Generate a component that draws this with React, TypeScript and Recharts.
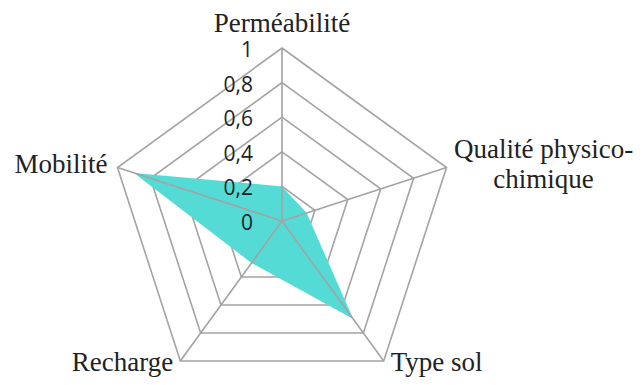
import { RadarChart, Radar, PolarGrid, PolarAngleAxis, PolarRadiusAxis } from 'recharts';

const criteria = ['Perméabilité', 'Qualité physico-chimique', 'Type sol', 'Recharge', 'Mobilité'];
const scores = [0.2, 0.15, 0.7, 0.3, 0.9];
const radiusTicks = [0, 0.2, 0.4, 0.6, 0.8, 1];

const CX = 282;
const CY = 221;
const R = 173;
const GRID = '#a3a3a3';
const FILL = '#55dbd6';

const data = criteria.map((name, i) => ({ name, value: scores[i] }));

function renderAngleTick(props: any) {
  const { payload } = props;
  const rad = (-(payload.coordinate ?? 0) * Math.PI) / 180;
  const vx = CX + R * Math.cos(rad);
  const vy = CY + R * Math.sin(rad);
  const dx = vx - CX;
  const style = { fontFamily: '"Liberation Serif", "Times New Roman", serif', fontSize: 27, fill: '#222' };

  if (Math.abs(dx) < 1) {
    return (
      <text x={vx} y={vy - 16} textAnchor="middle" {...style}>
        {payload.value}
      </text>
    );
  }
  if (payload.value === 'Qualité physico-chimique') {
    // two-line label, centred as a block right of the vertex
    const [first, second] = String(payload.value).split('-');
    return (
      <text x={vx + 97} y={vy - 10} textAnchor="middle" {...style}>
        <tspan x={vx + 97}>{first}-</tspan>
        <tspan x={vx + 97} dy={30}>{second}</tspan>
      </text>
    );
  }
  if (vy > CY + 50) {
    return (
      <text x={dx > 0 ? vx + 7 : vx - 7} y={vy + 10} textAnchor={dx > 0 ? 'start' : 'end'} {...style}>
        {payload.value}
      </text>
    );
  }
  return (
    <text x={dx > 0 ? vx + 8 : vx - 10} y={vy + 5} textAnchor={dx > 0 ? 'start' : 'end'} {...style}>
      {payload.value}
    </text>
  );
}

function renderRadiusTick(props: any) {
  const { x, y, payload } = props;
  return (
    <text
      x={x - 29}
      y={y + 1}
      textAnchor="end"
      dominantBaseline="central"
      fontFamily='"Open Sans", "Noto Sans", sans-serif'
      fontSize={21}
      fill="#222"
    >
      {String(payload.value).replace('.', ',')}
    </text>
  );
}

export default function App() {
  const common = {
    width: 642,
    height: 385,
    data,
    cx: CX,
    cy: CY,
    outerRadius: R,
    margin: { top: 0, right: 0, bottom: 0, left: 0 },
  };
  return (
    <div style={{ position: 'absolute', left: 0, top: 0, width: 642, height: 385, background: '#fff' }}>
      {/* rings + filled area underneath */}
      <div style={{ position: 'absolute', left: 0, top: 0 }}>
        <RadarChart {...common}>
          <PolarGrid gridType="polygon" radialLines={false} stroke={GRID} strokeWidth={1.6} />
          <PolarAngleAxis dataKey="name" tick={false} tickLine={false} axisLine={false} />
          <PolarRadiusAxis angle={90} domain={[0, 1]} ticks={radiusTicks as any} tick={false} axisLine={false} tickLine={false} />
          <Radar dataKey="value" fill={FILL} fillOpacity={1} stroke="none" isAnimationActive={false} />
        </RadarChart>
      </div>
      {/* spokes and labels drawn over the fill */}
      <div style={{ position: 'absolute', left: 0, top: 0 }}>
        <RadarChart {...common}>
          <PolarGrid gridType="polygon" polarRadius={[0]} stroke={GRID} strokeWidth={1.6} />
          <PolarAngleAxis dataKey="name" tick={renderAngleTick} tickLine={false} axisLine={false} />
          <PolarRadiusAxis
            angle={90}
            domain={[0, 1]}
            ticks={radiusTicks as any}
            tick={renderRadiusTick}
            axisLine={false}
            tickLine={false}
          />
          <Radar dataKey="value" fill="none" stroke="none" isAnimationActive={false} />
        </RadarChart>
      </div>
    </div>
  );
}
